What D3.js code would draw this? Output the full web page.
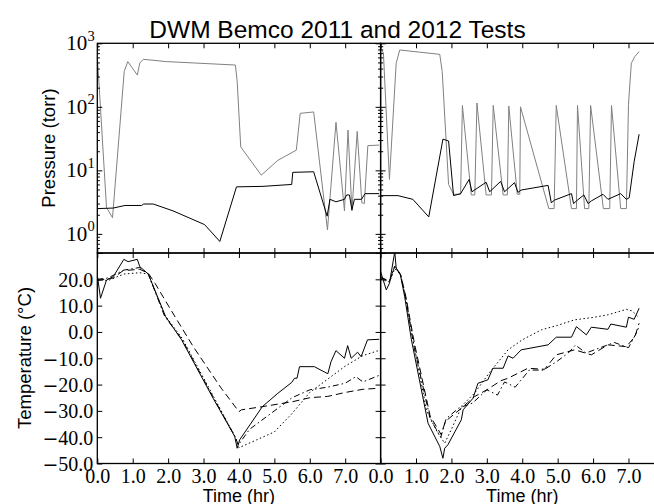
<!DOCTYPE html>
<html>
<head>
<meta charset="utf-8">
<script src="https://cdn.jsdelivr.net/npm/d3@7"></script>
<style>
  body { margin: 0; background: #fff; }
  svg { display: block; }
  .tick text { font-family: "Liberation Serif", "DejaVu Serif", serif; font-size: 20px; fill: #000; }
  .tick line { stroke: #000; stroke-width: 1; }
</style>
</head>
<body>
<svg id="chart" width="654" height="504"></svg>
<script>
// ---- 2011 test: pressure (torr) ----
const chamberTime2011 = [0, 0.03, 0.26, 0.43, 0.76, 0.86, 1.13, 1.2, 1.3, 1.95, 3.9, 3.95, 4.05, 4.63, 5.1, 5.62, 5.73, 6.11, 6.5, 6.74, 6.98, 7.08, 7.19, 7.34, 7.47, 7.54, 7.64, 7.96];
const chamberTorr2011 = [600, 340, 2.6, 1.8, 359, 515, 316, 490, 560, 515, 455, 250, 23.4, 8.4, 14.4, 20.8, 79, 83, 1.16, 57, 2.3, 43, 2.3, 41, 3.1, 3.0, 24.5, 25];
const gaugeTime2011 = [0, 0.45, 0.78, 1.25, 1.31, 1.58, 2.14, 3.03, 3.46, 3.93, 4.68, 5.49, 5.52, 6.11, 6.49, 6.57, 6.74, 6.98, 7.04, 7.12, 7.19, 7.26, 7.46, 7.56, 7.96];
const gaugeTorr2011 = [2.5, 2.55, 2.8, 2.8, 2.95, 2.95, 2.3, 1.4, 0.76, 5.5, 5.6, 6.0, 9.3, 9.5, 1.9, 3.5, 3.2, 3.5, 4.1, 4.1, 2.4, 3.5, 3.5, 4.3, 4.3];

// ---- 2012 test: pressure (torr) ----
const chamberTime2012 = [0, 0.08, 0.25, 0.44, 0.54, 1.67, 1.74, 1.92, 2.06, 2.26, 2.31, 2.56, 2.66, 2.72, 2.98, 3.13, 3.18, 3.46, 3.58, 3.62, 3.86, 3.93, 3.95, 4.75, 4.9, 4.96, 5.39, 5.53, 5.56, 5.76, 5.88, 5.93, 6.29, 6.47, 6.52, 6.78, 6.94, 7.0, 7.08, 7.18, 7.30];
const chamberTorr2012 = [850, 700, 7.2, 485, 785, 670, 360, 6.0, 4.2, 4.2, 105, 4.1, 4.1, 115, 4.1, 4.1, 105, 4.1, 4.1, 103, 4.2, 4.2, 100, 2.5, 2.5, 105, 2.5, 2.5, 105, 2.5, 2.5, 105, 2.5, 2.5, 105, 2.5, 2.5, 110, 485, 620, 740];
const gaugeTime2012 = [0, 0.49, 0.91, 1.36, 1.76, 1.92, 2.06, 2.26, 2.50, 2.58, 2.98, 3.08, 3.39, 3.50, 3.78, 3.88, 3.97, 4.73, 4.82, 4.91, 5.39, 5.45, 5.53, 5.74, 5.86, 5.95, 6.28, 6.42, 6.78, 6.94, 7.02, 7.16, 7.30];
const gaugeTorr2012 = [4.0, 4.0, 3.5, 1.85, 31, 29, 4.0, 4.3, 7.2, 4.6, 6.5, 4.6, 6.7, 4.6, 6.4, 4.5, 4.9, 5.8, 3.1, 3.4, 4.3, 3.0, 3.3, 4.1, 3.0, 3.3, 4.2, 3.5, 4.3, 3.5, 3.7, 13.7, 37];

// ---- 2011 test: temperatures (°C) ----
const tcATime2011 = [0, 0.09, 0.26, 0.45, 0.75, 0.87, 1.13, 1.2, 1.44, 1.93, 2.38, 3.27, 3.88, 3.95, 4.02, 4.66, 5.1, 5.49, 5.57, 5.64, 5.71, 6.13, 6.51, 6.6, 6.74, 6.98, 7.07, 7.17, 7.35, 7.45, 7.63, 7.96];
const tcATemp2011 = [21.6, 12.8, 19.7, 21, 27.6, 26.7, 27.6, 24.8, 22, 5.8, -3, -25.2, -39.7, -44.2, -41, -28.4, -23.3, -19.2, -17.6, -17.6, -13.2, -13.2, -15.9, -11.3, -7.1, -10, -5.2, -10, -7.7, -9.4, -3, -2.8];
const tcBTime2011 = [0, 0.45, 0.73, 1.2, 1.44, 1.63, 2.05, 2.71, 3.5, 4.0, 4.07, 4.66, 5.52, 6.0, 6.51, 7.0, 7.5, 7.96];
const tcBTemp2011 = [19.5, 20.5, 23.3, 23.8, 22.3, 18.5, 9, -5.6, -21.4, -30.3, -29.6, -28.4, -26.5, -25, -24.5, -23, -21.8, -21.4];
const tcCTime2011 = [0, 0.3, 0.75, 1.2, 1.44, 1.9, 2.4, 3.3, 3.9, 3.98, 4.3, 4.8, 5.5, 6.0, 6.5, 7.0, 7.3, 7.5, 7.96];
const tcCTemp2011 = [20, 20.5, 23.5, 24.5, 22, 6, -3, -25.5, -40, -43, -37, -32, -25, -22, -21, -19.5, -17, -19, -16.5];
const tcDTime2011 = [0, 0.3, 0.75, 1.2, 1.44, 1.9, 2.4, 3.3, 3.9, 4.0, 4.5, 5.0, 5.5, 6.0, 6.5, 7.0, 7.5, 7.96];
const tcDTemp2011 = [20, 19.5, 22, 22.5, 22, 6.5, -2.5, -25, -40, -44, -41, -38, -31, -23, -18, -13, -9, -7];

// ---- 2012 test: temperatures (°C) ----
const tcATime2012 = [0, 0.16, 0.25, 0.4, 0.44, 0.56, 0.68, 0.87, 1.34, 1.67, 1.76, 1.81, 1.9, 2.28, 2.33, 2.61, 2.75, 3.03, 3.17, 3.46, 3.6, 3.74, 3.97, 4.73, 4.96, 5.39, 5.53, 5.81, 5.95, 6.42, 6.5, 6.94, 7.0, 7.16, 7.30];
const tcATemp2012 = [22.9, 16, 18.5, 30.5, 24.2, 21.6, 13.4, -3, -34.7, -43.5, -48, -44.2, -42.9, -33.4, -29.6, -25.2, -19.5, -18.2, -13.8, -13.8, -9.1, -10, -6.8, -4.9, -2, -2, 2, -1.1, 1.8, 1, 3, 1.8, 5.6, 4.8, 9];
const tcBTime2012 = [0, 0.25, 0.4, 0.56, 0.72, 0.95, 1.4, 1.71, 1.83, 2.28, 2.65, 3.0, 3.4, 3.6, 4.16, 4.63, 4.96, 5.48, 5.95, 6.42, 6.94, 7.18, 7.30];
const tcBTemp2012 = [21, 19, 25, 22, 13, -4, -32, -39, -34, -29, -24.6, -22, -18.5, -17.6, -13.8, -14.2, -8.7, -6.8, -8.7, -4.9, -5.6, -1.8, 3.3];
const tcCTime2012 = [0, 0.25, 0.4, 0.56, 0.72, 0.95, 1.4, 1.7, 1.85, 2.2, 2.6, 3.0, 3.3, 3.5, 3.8, 4.2, 4.6, 5.0, 5.3, 5.5, 5.8, 6.2, 6.6, 7.0, 7.2, 7.3];
const tcCTemp2012 = [20.5, 19.5, 25, 22, 12, -6, -33, -40, -33, -29, -27, -22, -24, -19, -21, -14.5, -14.5, -11, -8, -5, -8, -6, -4, -6, -1, 2];
const tcDTime2012 = [0, 0.25, 0.4, 0.56, 0.7, 0.9, 1.3, 1.6, 1.81, 2.0, 2.3, 2.65, 3.1, 3.6, 4.0, 4.54, 5.0, 5.48, 6.0, 6.42, 6.94, 7.1, 7.27];
const tcDTemp2012 = [20, 19, 24, 22, 14, -2, -30, -38, -42.3, -37, -28, -23.3, -15, -6.8, -3, 0.8, 2.5, 4.6, 5.5, 6.5, 8.6, 8, 5.8];

// ---- axis settings ----
const timeTicks = [0, 1, 2, 3, 4, 5, 6, 7];
const pressureMajor = [1, 10, 100, 1000];
const pressureMinor = [0.5, 0.6, 0.7, 0.8, 0.9,
  2, 3, 4, 5, 6, 7, 8, 9, 20, 30, 40, 50, 60, 70, 80, 90,
  200, 300, 400, 500, 600, 700, 800, 900];
const tempTicks = [-50, -40, -30, -20, -10, 0, 10, 20, 30];
const tempTickLabels = [-50, -40, -30, -20, -10, 0, 10, 20];

const svg = d3.select("#chart");
const W = 654, H = 504;
svg.append("rect").attr("width", W).attr("height", H).attr("fill", "#fff");

const colL = [97.3, 380.6], colR = [380.6, 663.9];
const rowTop = [43.3, 253], rowBot = [253, 463.5];

const xLeft = d3.scaleLinear().domain([0, 8]).range(colL);
const xRight = d3.scaleLinear().domain([0, 8]).range(colR);
const yP = d3.scaleLog().domain([0.5, 1000]).range([rowTop[1], rowTop[0]]);
const yT = d3.scaleLinear().domain([-50, 30]).range([rowBot[1], rowBot[0]]);

const MAJ = 5, MIN = 2.6;
const serif = '"Liberation Serif", "DejaVu Serif", serif';

function zip(ts, vs) { return ts.map((t, i) => [t, vs[i]]); }

let clipId = 0;
function panel(x, y, kind, showYLabels, showXLabels, series) {
  const [x0, x1] = x.range();
  const [yb, yt] = y.range();
  const g = svg.append("g");
  const id = "clip" + (clipId++);
  svg.append("defs").append("clipPath").attr("id", id)
    .append("rect").attr("x", x0).attr("y", yt).attr("width", x1 - x0).attr("height", yb - yt);

  const plot = g.append("g").attr("clip-path", `url(#${id})`);
  const line = d3.line().x(d => x(d[0])).y(d => y(d[1]));
  series.forEach(s => {
    plot.append("path")
      .datum(zip(s.t, s.v))
      .attr("fill", "none")
      .attr("stroke", s.color)
      .attr("stroke-width", s.width || 1)
      .attr("stroke-dasharray", s.dash || null)
      .attr("stroke-linejoin", "miter")
      .attr("d", line);
  });

  // x ticks, inward on bottom and top
  g.append("g").attr("transform", `translate(0,${yb})`)
    .call(d3.axisBottom(x).tickValues(timeTicks).tickSize(-MAJ).tickSizeOuter(0).tickPadding(5)
      .tickFormat(showXLabels ? d3.format(".1f") : ""));
  g.append("g").attr("transform", `translate(0,${yt})`)
    .call(d3.axisTop(x).tickValues(timeTicks).tickSize(-MAJ).tickSizeOuter(0).tickFormat(""));

  // y ticks, inward on left and right
  if (kind === "log") {
    g.append("g").attr("transform", `translate(${x0},0)`)
      .call(d3.axisLeft(y).tickValues(pressureMajor).tickSize(-MAJ).tickSizeOuter(0).tickFormat(""));
    g.append("g").attr("transform", `translate(${x0},0)`)
      .call(d3.axisLeft(y).tickValues(pressureMinor).tickSize(-MIN).tickSizeOuter(0).tickFormat(""));
    g.append("g").attr("transform", `translate(${x1},0)`)
      .call(d3.axisRight(y).tickValues(pressureMajor).tickSize(-MAJ).tickSizeOuter(0).tickFormat(""));
    g.append("g").attr("transform", `translate(${x1},0)`)
      .call(d3.axisRight(y).tickValues(pressureMinor).tickSize(-MIN).tickSizeOuter(0).tickFormat(""));
    if (showYLabels) {
      // decade labels drawn as 10 with a raised exponent
      const lab = g.append("g").attr("font-family", serif);
      pressureMajor.forEach(v => {
        const e = Math.round(Math.log10(v));
        lab.append("text")
          .attr("x", x0 - 10).attr("y", y(v) + 7)
          .attr("text-anchor", "end").attr("font-size", 21)
          .text("10");
        lab.append("text")
          .attr("x", x0 - 2.5).attr("y", y(v) - 2.5)
          .attr("text-anchor", "end").attr("font-size", 14.5)
          .text(String(e));
      });
    }
  } else {
    const ly = g.append("g").attr("transform", `translate(${x0},0)`)
      .call(d3.axisLeft(y).tickValues(tempTicks).tickSize(-MAJ).tickSizeOuter(0).tickPadding(4)
        .tickFormat(""));
    if (showYLabels) {
      ly.selectAll(".tick").filter(d => tempTickLabels.includes(d)).each(function (d) {
        const t = d3.select(this).append("text")
          .attr("x", -4).attr("dy", "0.34em")
          .attr("text-anchor", "end");
        if (d < 0) {
          // wide math-style minus sign
          t.append("tspan").attr("font-family", '"DejaVu Serif", serif').attr("font-size", 19).text("\u2212");
        }
        t.append("tspan").text(d3.format(".1f")(Math.abs(d)));
      });
    }
    g.append("g").attr("transform", `translate(${x1},0)`)
      .call(d3.axisRight(y).tickValues(tempTicks).tickSize(-MAJ).tickSizeOuter(0).tickFormat(""));
  }
  g.selectAll(".domain").remove();

  // frame
  g.append("rect").attr("x", x0).attr("y", yt).attr("width", x1 - x0).attr("height", yb - yt)
    .attr("fill", "none").attr("stroke", "#000").attr("stroke-width", 1.3);
}

const GRAY = "#808080", BLACK = "#000";
const DASH = "7,4", DASHDOT = "6,3,1.5,3", DOT = "1.5,2.5";

panel(xLeft, yP, "log", true, false, [
  { t: chamberTime2011, v: chamberTorr2011, color: GRAY },
  { t: gaugeTime2011, v: gaugeTorr2011, color: BLACK }
]);
panel(xRight, yP, "log", false, false, [
  { t: chamberTime2012, v: chamberTorr2012, color: GRAY },
  { t: gaugeTime2012, v: gaugeTorr2012, color: BLACK }
]);
panel(xLeft, yT, "lin", true, true, [
  { t: tcATime2011, v: tcATemp2011, color: BLACK },
  { t: tcBTime2011, v: tcBTemp2011, color: BLACK, dash: DASH },
  { t: tcCTime2011, v: tcCTemp2011, color: BLACK, dash: DASHDOT },
  { t: tcDTime2011, v: tcDTemp2011, color: BLACK, dash: DOT }
]);
panel(xRight, yT, "lin", false, true, [
  { t: tcATime2012, v: tcATemp2012, color: BLACK },
  { t: tcBTime2012, v: tcBTemp2012, color: BLACK, dash: DASH },
  { t: tcCTime2012, v: tcCTemp2012, color: BLACK, dash: DASHDOT },
  { t: tcDTime2012, v: tcDTemp2012, color: BLACK, dash: DOT }
]);

// titles and axis labels
const sans = '"Liberation Sans", Arial, Helvetica, sans-serif';
svg.append("text").attr("x", 337.5).attr("y", 37.5).attr("text-anchor", "middle")
  .attr("font-family", sans).attr("font-size", 24.5).text("DWM Bemco 2011 and 2012 Tests");

svg.append("text").attr("transform", "translate(55,148) rotate(-90)").attr("text-anchor", "middle")
  .attr("font-family", sans).attr("font-size", 18.5).text("Pressure (torr)");
svg.append("text").attr("transform", "translate(31,358) rotate(-90)").attr("text-anchor", "middle")
  .attr("font-family", sans).attr("font-size", 18.5).text("Temperature (°C)");

svg.append("text").attr("x", (colL[0] + colL[1]) / 2).attr("y", 501.5).attr("text-anchor", "middle")
  .attr("font-family", sans).attr("font-size", 18).text("Time (hr)");
svg.append("text").attr("x", (colR[0] + colR[1]) / 2).attr("y", 501.5).attr("text-anchor", "middle")
  .attr("font-family", sans).attr("font-size", 18).text("Time (hr)");
</script>
</body>
</html>
